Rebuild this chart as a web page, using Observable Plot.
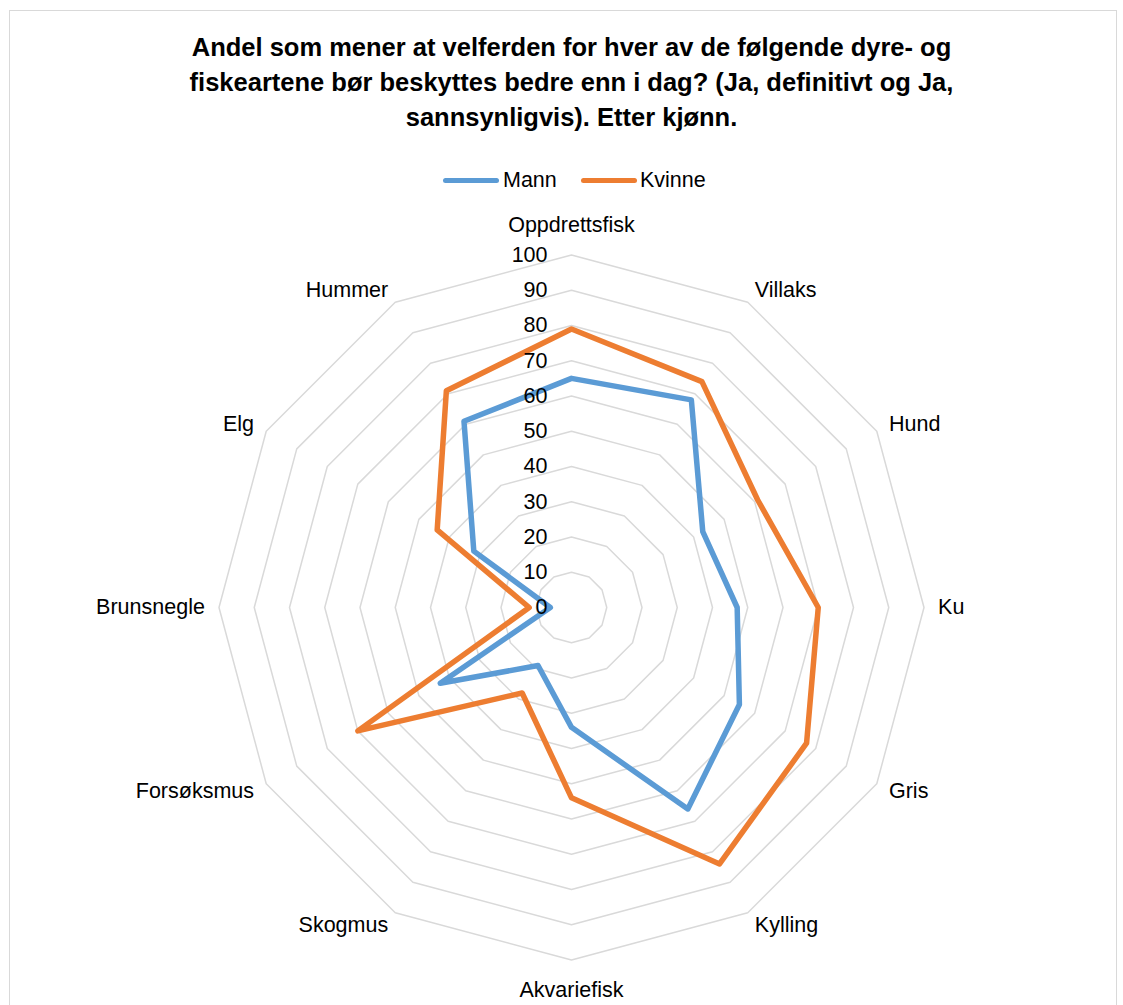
<!DOCTYPE html>
<html>
<head>
<meta charset="utf-8">
<script src="https://cdn.jsdelivr.net/npm/d3@7"></script>
<script src="https://cdn.jsdelivr.net/npm/@observablehq/plot@0.6"></script>
<style>
  html, body { margin: 0; padding: 0; background: #fff; }
  body { width: 1123px; height: 1005px; position: relative; overflow: hidden; font-family: "Liberation Sans", Arial, sans-serif; }
  #frame { position: absolute; left: 9px; top: 10px; width: 1108px; height: 1010px; border: 1px solid #d9d9d9; box-sizing: border-box; }
  #title { position: absolute; left: 0; top: 30px; width: 1143px; text-align: center; font-weight: bold; font-size: 25.5px; line-height: 35px; color: #000; }
  #legend { position: absolute; top: 167px; left: 0; width: 1123px; height: 26px; }
  .sw { position: absolute; top: 11px; height: 5px; border-radius: 3px; }
  .lt { position: absolute; top: 0; font-size: 21.5px; line-height: 26px; color: #000; }
  #chart { position: absolute; left: 0; top: 200px; }
</style>
</head>
<body>
<div id="frame"></div>
<div id="title"></div>
<div id="legend"></div>
<div id="chart"></div>
<script>
const titleLines = [
  "Andel som mener at velferden for hver av de følgende dyre- og",
  "fiskeartene bør beskyttes bedre enn i dag? (Ja, definitivt og Ja,",
  "sannsynligvis). Etter kjønn."
];
const categories = ["Oppdrettsfisk", "Villaks", "Hund", "Ku", "Gris", "Kylling", "Akvariefisk", "Skogmus", "Forsøksmus", "Brunsnegle", "Elg", "Hummer"];
const seriesNames = ["Mann", "Kvinne"];
const mann = [65, 68, 43, 47, 55, 66, 34, 19, 43, 6, 32, 61];
const kvinne = [79, 74, 61, 70, 77, 84, 54, 28, 70, 12, 44, 71];
const seriesColors = ["#5b9bd5", "#ed7d31"];
const tickValues = [0, 10, 20, 30, 40, 50, 60, 70, 80, 90, 100];

// title
document.getElementById("title").innerHTML = titleLines.join("<br>");

// legend
const legend = document.getElementById("legend");
const legendPos = [{sw: 443, tx: 503}, {sw: 581, tx: 640}];
seriesNames.forEach((s, i) => {
  const sw = document.createElement("div");
  sw.className = "sw";
  sw.style.left = legendPos[i].sw + "px";
  sw.style.width = "56px";
  sw.style.background = seriesColors[i];
  legend.appendChild(sw);
  const t = document.createElement("div");
  t.className = "lt";
  t.style.left = legendPos[i].tx + "px";
  t.textContent = s;
  legend.appendChild(t);
});

// polar helpers
const n = categories.length;
const ang = i => i * 2 * Math.PI / n;
const px = (r, i) => r * Math.sin(ang(i));
const py = (r, i) => r * Math.cos(ang(i));

// grid rings
const rings = [];
tickValues.filter(v => v > 0).forEach(v => {
  categories.forEach((c, i) => rings.push({level: v, x: px(v, i), y: py(v, i)}));
});

// series
const seriesData = [];
[mann, kvinne].forEach((vals, s) => {
  vals.forEach((v, i) => seriesData.push({series: seriesNames[s], category: categories[i], x: px(v, i), y: py(v, i)}));
});

// category labels
const labelData = categories.map((c, i) => {
  const a = ang(i);
  const sn = Math.round(Math.sin(a) * 1000) / 1000;
  const r = Math.abs(sn) < 0.01 ? 108.5 : 104;
  return {label: c, x: px(r, i), y: py(r, i), anchor: sn > 0.01 ? "start" : sn < -0.01 ? "end" : "middle"};
});

// tick labels
const tickData = tickValues.map(v => ({label: String(v), x: 0, y: v}));

const plot = Plot.plot({
  width: 1123,
  height: 805,
  x: {domain: [-100, 100], range: [218.5, 923.5], axis: null},
  y: {domain: [-100, 100], range: [759.5, 54.5], axis: null},
  color: {domain: seriesNames, range: seriesColors},
  style: {fontFamily: "Liberation Sans, Arial, sans-serif", fontSize: "21.5px", background: "transparent", color: "#000"},
  marks: [
    Plot.line(rings, {x: "x", y: "y", z: "level", curve: "linear-closed", stroke: "#d9d9d9", strokeWidth: 1.5}),
    Plot.line(seriesData, {x: "x", y: "y", z: "series", stroke: "series", curve: "linear-closed", strokeWidth: 5.5, strokeLinejoin: "round"}),
    Plot.text(tickData, {x: "x", y: "y", text: "label", textAnchor: "end", dx: -24, fill: "#000", fontSize: 21.5}),
    ...["start", "end", "middle"].map(an =>
      Plot.text(labelData.filter(d => d.anchor === an), {x: "x", y: "y", text: "label", textAnchor: an, fill: "#000", fontSize: 21.5})
    )
  ]
});
document.getElementById("chart").appendChild(plot);
</script>
</body>
</html>
